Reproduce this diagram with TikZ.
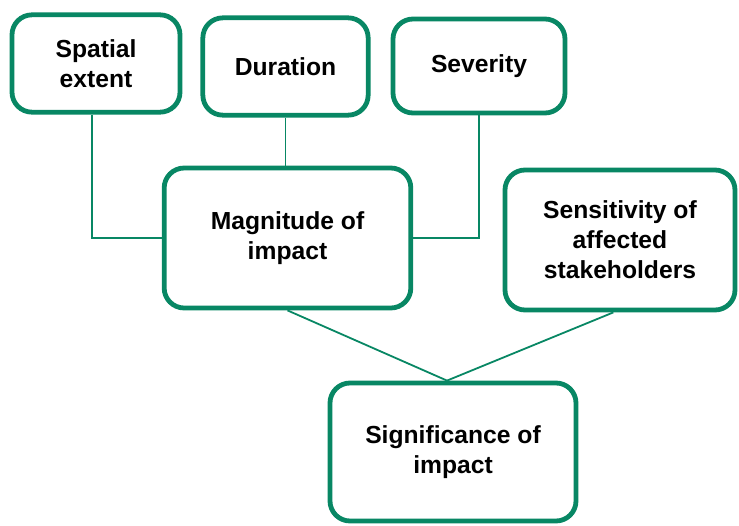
\documentclass[tikz,border=0pt]{standalone}
\usepackage{fontspec}
\setmainfont{Liberation Sans}
\usepackage{xcolor}
\usepackage{tikz}
\usetikzlibrary{calc,positioning}
\definecolor{mainc}{HTML}{088764}
\tikzset{
  box/.style={draw=mainc,line width=3.6pt,rounded corners=15pt,fill=white,align=center,inner sep=4pt,
    font=\fontsize{18.5}{22.5}\selectfont\bfseries},
  ln/.style={mainc,line width=1.35pt}
}
\begin{document}
\begin{tikzpicture}[x=0.75pt,y=-0.75pt]
\useasboundingbox (0,0) rectangle (739,525);
\node[box,minimum width=126pt,minimum height=73pt] (spat) at (96,63.5) {Spatial\\extent};
\node[box,minimum width=124pt,minimum height=73pt] (dur) at (285.5,66.5) {Duration};
\node[box,minimum width=129pt,minimum height=70.5pt] (sev) at (479,66) {Severity};
\node[box,minimum width=185pt,minimum height=105pt] (mag) at (287.5,238) {Magnitude of\\impact};
\node[box,minimum width=172.5pt,minimum height=105pt] (sens) at (620,240) {Sensitivity of\\affected\\stakeholders};
\node[box,minimum width=184.5pt,minimum height=103.5pt] (sig) at (453,452) {Significance of\\impact};
\coordinate (join) at ($(sig.north)+(-6,0)$);
% links into magnitude
\draw[ln] ([xshift=-3pt]spat.south) |- (mag.west);
\draw[ln] (dur.south) -- (dur.south |- mag.north);
\draw[ln] (sev.south) |- (mag.east);
% links into significance
\draw[ln] (mag.south) -- (join);
\draw[ln] ([xshift=-5pt]sens.south) -- (join);
\end{tikzpicture}
\end{document}
